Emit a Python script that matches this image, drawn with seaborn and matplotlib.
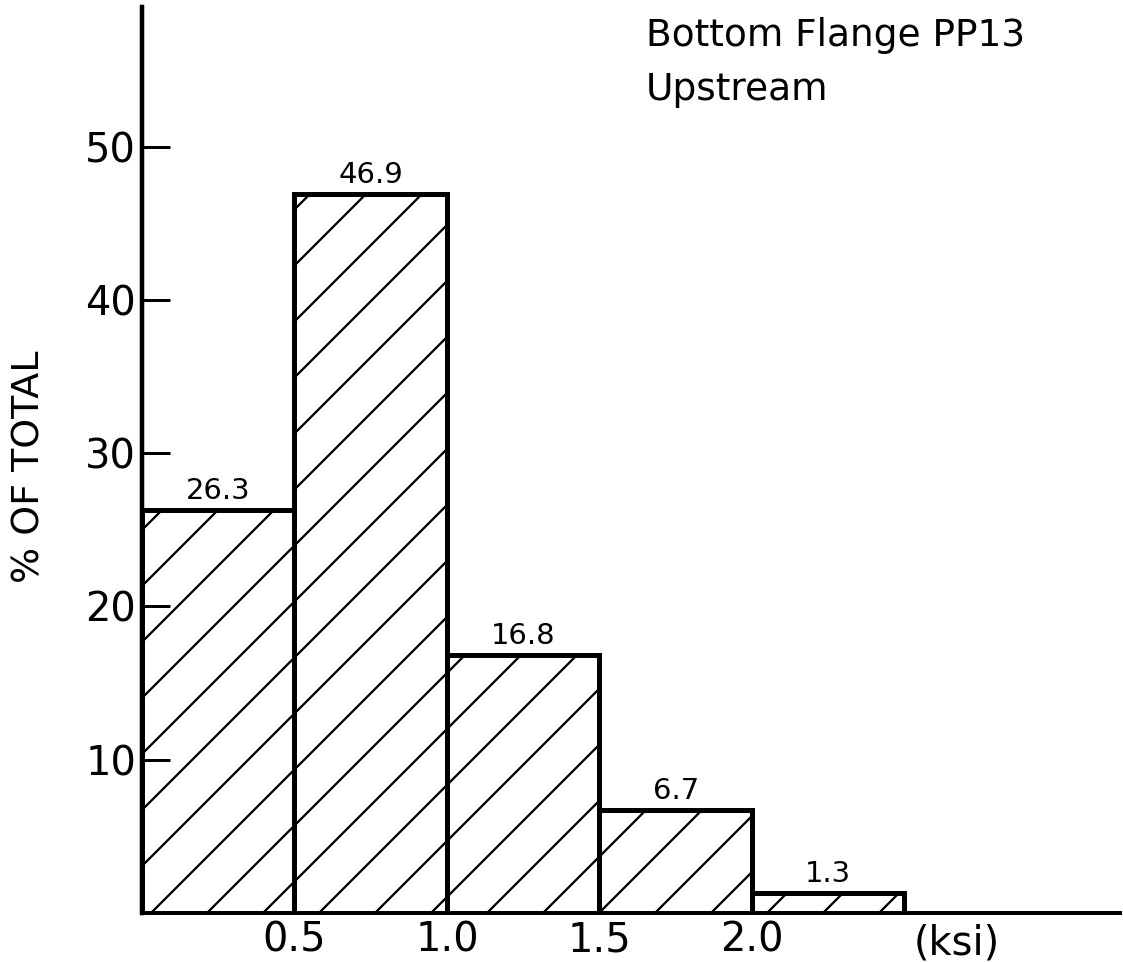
import numpy as np
import pandas as pd
import matplotlib
matplotlib.use("Agg")
import matplotlib.pyplot as plt
import seaborn as sns

# Stress-range bins (ksi) and the share of all cycles falling in each bin (%)
bin_edges = [0.0, 0.5, 1.0, 1.5, 2.0, 2.5]
percent_of_total = [26.3, 46.9, 16.8, 6.7, 1.3]
value_labels = ["26.3", "46.9", "16.8", "6.7", "1.3"]

x_tick_values = [0.5, 1.0, 1.5, 2.0]
x_tick_labels = ["0.5", "1.0", "1.5", "2.0"]
y_tick_values = [10, 20, 30, 40, 50]
y_tick_labels = ["10", "20", "30", "40", "50"]

title_lines = ["Bottom Flange PP13", "Upstream"]
y_label = "% OF TOTAL"
x_unit = "(ksi)"

# Output geometry: a high dpi keeps the hatch lines widely spaced
W, H = 1123, 962
DPI = 336
PT = 72 / DPI  # points per output pixel

sns.set_theme(
    style="ticks",
    rc={
        "axes.edgecolor": "black",
        "xtick.color": "black",
        "ytick.color": "black",
        "text.color": "black",
        "axes.labelcolor": "black",
        "ytick.direction": "in",
    },
)
plt.rcParams["font.family"] = ["DejaVu Sans"]
plt.rcParams["hatch.linewidth"] = 2.3 * PT
plt.rcParams["hatch.color"] = "black"

edges = np.asarray(bin_edges)
df = pd.DataFrame({
    "stress": (edges[:-1] + edges[1:]) / 2,
    "pct": percent_of_total,
})

fig = plt.figure(figsize=(W / DPI, H / DPI), dpi=DPI)
ax = fig.add_axes([142 / W, 49 / H, (1120 - 142) / W, (913 - 7) / H])

sns.histplot(
    data=df, x="stress", weights="pct", bins=bin_edges, stat="count",
    color="white", edgecolor="black", linewidth=5 * PT, hatch="//",
    alpha=1, ax=ax,
)

ax.set_xlim(0, 3.207)
ax.set_ylim(0, 59.1)
ax.set_axisbelow(False)
sns.despine(ax=ax)
ax.spines["left"].set_linewidth(4.5 * PT)
ax.spines["bottom"].set_linewidth(4 * PT)

ax.set_xticks(x_tick_values, x_tick_labels)
ax.tick_params(axis="x", length=0, pad=8 * PT, labelsize=40 * PT)
ax.set_yticks(y_tick_values, y_tick_labels)
ax.tick_params(axis="y", which="major", direction="in", length=28 * PT,
               width=3 * PT, pad=6 * PT, labelsize=40 * PT)

ax.set_xlabel("")
ax.set_ylabel(y_label, fontsize=38 * PT, va="center")
ax.yaxis.set_label_coords(-0.1155, 0.493)

# unit written at the end of the stress axis
ax.annotate(x_unit, xy=(2.672, 0), xycoords=("data", "axes fraction"),
            xytext=(0, -10 * PT), textcoords="offset points",
            ha="center", va="top", fontsize=40 * PT)

# value printed above each bar
ax.bar_label(ax.containers[0], labels=value_labels, padding=5 * PT,
             fontsize=29 * PT)

fig.text(646 / W, 1 - 46 / H, title_lines[0], ha="left", va="baseline",
         fontsize=37.5 * PT)
fig.text(646 / W, 1 - 100 / H, title_lines[1], ha="left", va="baseline",
         fontsize=37.5 * PT)

fig.savefig("out.png", dpi=DPI, facecolor="white")
